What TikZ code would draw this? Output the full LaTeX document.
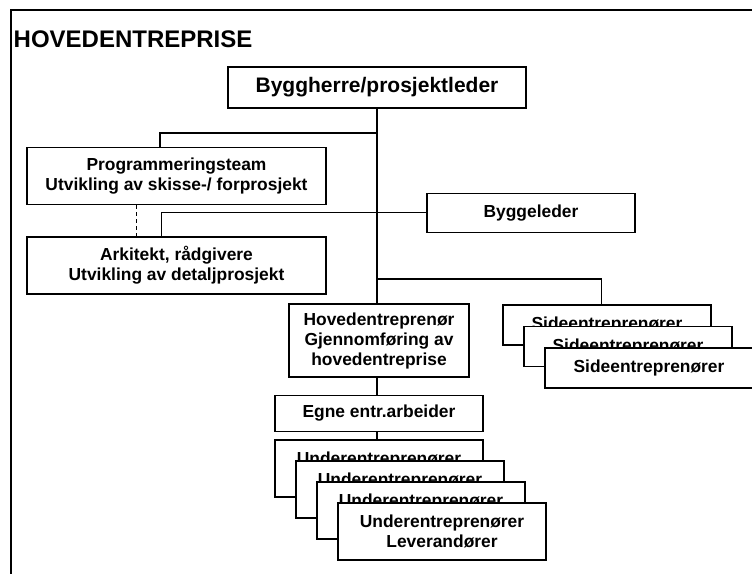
\documentclass[tikz,border=0pt]{standalone}
\usepackage{fontspec}
\setmainfont{Liberation Sans}
\usetikzlibrary{positioning}

\begin{document}
\begin{tikzpicture}[x=1pt,y=-1pt,line width=1.4pt,
                    main node/.style={draw,rectangle,fill=white,align=center,inner sep=0pt,
                                      font=\bfseries\fontsize{17.4}{20}\selectfont},
                    big box/.style={main node,minimum width=299pt,minimum height=57pt},
                    stack box/.style={main node,minimum width=208pt,minimum height=57pt},
                    side box/.style={main node,minimum width=208pt,minimum height=40pt}]

  \clip (0,0) rectangle (752,573);
  \draw (11,10) rectangle (800,620);
  \node[anchor=base west,inner sep=0pt,font=\bfseries\fontsize{24}{28}\selectfont] (title) at (13,47) {HOVEDENTREPRISE};

  \node[main node,minimum width=298pt,minimum height=41pt,font=\bfseries\fontsize{21}{24}\selectfont] (boss) at (377,87.5) {Byggherre/prosjektleder};
  \node[big box] (prog) at (176.5,176) {Programmeringsteam\\Utvikling av skisse-/ forprosjekt};
  \node[big box] [below = 31pt of prog] (ark) {Arkitekt, rådgivere\\Utvikling av detaljprosjekt};
  \node[main node,minimum width=208pt,minimum height=39pt] (bleder) at (531,212.7) {Byggeleder};
  \node[main node,minimum width=180pt,minimum height=73pt] (hoved) at (379,340.5) {Hovedentreprenør\\Gjennomføring av\\hovedentreprise};
  \node[main node,minimum width=208pt,minimum height=36pt] [below = 17pt of hoved] (egne) {Egne entr.arbeider};

  % stacked boxes
  \node[stack box] [below = 7pt of egne] (under1) {Underentreprenører\\\phantom{Leverandører}};
  \node[stack box,anchor=north west] (under2) at ([shift={(21,21)}]under1.north west) {Underentreprenører\\\phantom{Leverandører}};
  \node[stack box,anchor=north west] (under3) at ([shift={(21,21)}]under2.north west) {Underentreprenører\\\phantom{Leverandører}};
  \node[stack box,anchor=north west] (under4) at ([shift={(21,21)}]under3.north west) {Underentreprenører\\Leverandører};

  \node[side box] (side1) at (607,325) {Sideentreprenører};
  \node[side box,anchor=north west] (side2) at ([shift={(21,21.5)}]side1.north west) {Sideentreprenører};
  \node[side box,anchor=north west] (side3) at ([shift={(21,21.5)}]side2.north west) {Sideentreprenører};

  \coordinate (jprog) at (377,133);
  \coordinate (jside) at (377,279);

\draw (boss.south) -- (boss.south |- hoved.north);
\draw (jprog) -| ([xshift=-16.5pt]prog.north);
\draw (bleder.west) -| ([xshift=-15pt]ark.north);
\draw[dash pattern=on 4pt off 3pt] ([xshift=-40pt]prog.south) -- ([xshift=-40pt]ark.north);
\draw (jside) -| ([xshift=-5.5pt]side1.north);
\draw (boss.south |- hoved.south) -- (boss.south |- egne.north);
\draw (boss.south |- egne.south) -- (boss.south |- under1.north);

\end{tikzpicture}
\end{document}
